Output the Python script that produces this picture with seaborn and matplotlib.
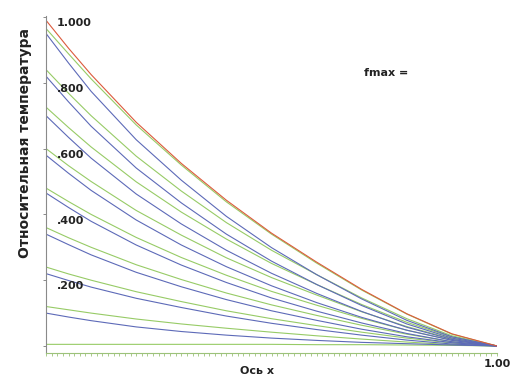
import matplotlib
matplotlib.use("Agg")
import matplotlib.pyplot as plt
from matplotlib.ticker import MultipleLocator, FixedLocator
import pandas as pd
import seaborn as sns

x_pos = [0.0, 0.05, 0.1, 0.2, 0.3, 0.4, 0.5, 0.6, 0.7, 0.8, 0.9, 1.0]

red_curve = [0.99, 0.905, 0.825, 0.68, 0.555, 0.443, 0.343, 0.255, 0.172, 0.098, 0.037, 0.0]

green_curves = [
    [0.965, 0.888, 0.812, 0.672, 0.55, 0.438, 0.34, 0.252, 0.17, 0.097, 0.036, 0.0],
    [0.84, 0.768, 0.70, 0.577, 0.471, 0.375, 0.291, 0.217, 0.146, 0.083, 0.031, 0.0],
    [0.726, 0.664, 0.605, 0.499, 0.407, 0.325, 0.251, 0.187, 0.126, 0.072, 0.027, 0.0],
    [0.60, 0.548, 0.50, 0.412, 0.337, 0.268, 0.208, 0.155, 0.104, 0.059, 0.022, 0.0],
    [0.48, 0.439, 0.40, 0.330, 0.269, 0.215, 0.166, 0.124, 0.084, 0.048, 0.018, 0.0],
    [0.36, 0.329, 0.30, 0.247, 0.202, 0.161, 0.125, 0.093, 0.063, 0.036, 0.013, 0.0],
    [0.24, 0.219, 0.20, 0.165, 0.135, 0.107, 0.083, 0.062, 0.042, 0.024, 0.009, 0.0],
    [0.12, 0.11, 0.10, 0.082, 0.067, 0.054, 0.042, 0.031, 0.021, 0.012, 0.004, 0.0],
    [0.005, 0.005, 0.005, 0.005, 0.005, 0.005, 0.005, 0.004, 0.004, 0.003, 0.002, 0.0],
]

blue_curves = [
    [0.95, 0.86, 0.774, 0.627, 0.504, 0.394, 0.299, 0.217, 0.143, 0.078, 0.028, 0.0],
    [0.82, 0.742, 0.668, 0.541, 0.435, 0.340, 0.258, 0.187, 0.123, 0.067, 0.024, 0.0],
    [0.70, 0.634, 0.571, 0.462, 0.371, 0.291, 0.221, 0.160, 0.105, 0.057, 0.020, 0.0],
    [0.58, 0.525, 0.473, 0.383, 0.307, 0.241, 0.183, 0.132, 0.087, 0.048, 0.017, 0.0],
    [0.465, 0.421, 0.379, 0.307, 0.246, 0.193, 0.146, 0.106, 0.070, 0.038, 0.013, 0.0],
    [0.34, 0.308, 0.277, 0.224, 0.180, 0.141, 0.107, 0.078, 0.051, 0.028, 0.010, 0.0],
    [0.22, 0.199, 0.179, 0.145, 0.117, 0.091, 0.069, 0.050, 0.033, 0.018, 0.006, 0.0],
    [0.10, 0.088, 0.077, 0.058, 0.044, 0.033, 0.024, 0.017, 0.011, 0.007, 0.003, 0.0],
]

y_ticks = [0.2, 0.4, 0.6, 0.8, 1.0]
y_tick_labels = [".200", ".400", ".600", ".800", "1.000"]
x_tick_label = "1.00"

GREEN = "#97cb66"
BLUE = "#5d6ab8"
RED = "#dc5a3c"

# long-form table for seaborn
rows = []
palette = {}
for i, ys in enumerate(green_curves):
    name = "g%d" % i
    palette[name] = GREEN
    rows += [(name, x, y) for x, y in zip(x_pos, ys)]
for i, ys in enumerate(blue_curves):
    name = "b%d" % i
    palette[name] = BLUE
    rows += [(name, x, y) for x, y in zip(x_pos, ys)]
palette["red"] = RED
rows += [("red", x, y) for x, y in zip(x_pos, red_curve)]
df = pd.DataFrame(rows, columns=["curve", "x", "y"])

sns.set_style("white")
plt.rcParams["font.family"] = ["DejaVu Sans"]

fig = plt.figure(figsize=(5.19, 3.87), dpi=100)
ax = fig.add_axes([46 / 519, 1 - 353 / 387, 451 / 519, 337 / 387])

sns.lineplot(data=df, x="x", y="y", hue="curve", palette=palette,
             estimator=None, sort=False, legend=False, linewidth=0.8, ax=ax)

ax.set_xlim(0, 1)
ax.set_ylim(-0.0213, 1.003)

for side in ["top", "right"]:
    ax.spines[side].set_visible(False)
ax.spines["left"].set_color("#8a8a8a")
ax.spines["left"].set_linewidth(0.8)
ax.spines["bottom"].set_color("#9cc27a")
ax.spines["bottom"].set_linewidth(0.8)

# y ticks: marks on the spine, labels drawn inside the plot
ax.yaxis.set_major_locator(FixedLocator([0.0] + y_ticks))
ax.set_yticklabels([])
ax.tick_params(axis="y", which="major", direction="out", length=2.5,
               width=0.7, color="#8a8a8a", left=True)
for v, lbl in zip(y_ticks, y_tick_labels):
    ax.annotate(lbl, xy=(0, v), xycoords=("axes fraction", "data"),
                xytext=(8, -4.5), textcoords="offset points",
                ha="left", va="center", fontsize=8, fontweight="bold",
                color="#222222")

# x ticks: dense minor marks, only 1.00 labelled
ax.xaxis.set_major_locator(FixedLocator([1.0]))
ax.set_xticklabels([x_tick_label])
ax.xaxis.set_minor_locator(MultipleLocator(0.0125))
ax.tick_params(axis="x", which="both", direction="out", length=2.5,
               width=0.6, color="#9cc27a", bottom=True, pad=2)
ax.tick_params(axis="x", which="major", labelsize=8, labelcolor="#222222")
for t in ax.get_xticklabels():
    t.set_fontweight("bold")

ax.set_xlabel("Ось x", fontsize=8, fontweight="bold", color="#222222")
ax.xaxis.set_label_coords(0.468, -0.04)
ax.set_ylabel("Относительная температура", fontsize=10, fontweight="bold",
              color="#222222")
ax.yaxis.set_label_coords(-0.031, 0.623)

ax.text(0.755, 0.83, "fmax =", transform=ax.transAxes, fontsize=8,
        fontweight="bold", color="#222222", ha="center", va="center")

fig.savefig("out.png", dpi=100)
